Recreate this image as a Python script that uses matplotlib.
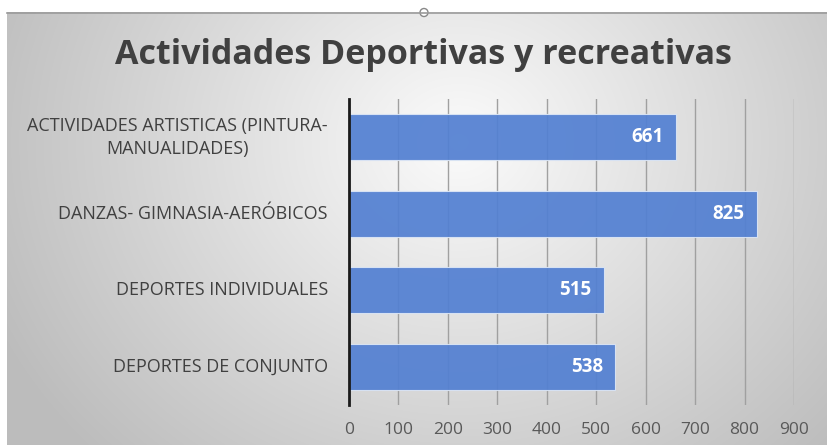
import numpy as np
import matplotlib
matplotlib.use("Agg")
import matplotlib.pyplot as plt

categories = ["ACTIVIDADES ARTISTICAS (PINTURA-\nMANUALIDADES)",
              "DANZAS- GIMNASIA-AERÓBICOS",
              "DEPORTES INDIVIDUALES",
              "DEPORTES DE CONJUNTO"]
values = [661, 825, 515, 538]
xticks = [0, 100, 200, 300, 400, 500, 600, 700, 800, 900]
title = "Actividades Deportivas y recreativas"

W, H = 828, 445
fig = plt.figure(figsize=(W / 100, H / 100), dpi=100)
fig.patch.set_facecolor("white")

# background gradient panel
bg = fig.add_axes([0, 0, 1, 1], zorder=0)
bg.set_xlim(0, W)
bg.set_ylim(H, 0)
bg.axis("off")
yy, xx = np.mgrid[0:H - 12, 0:W - 7]
cx, cy = (W - 7) * 0.55, (H - 12) * 0.3
r = np.sqrt(((xx - cx) / (W * 0.55)) ** 2 + ((yy - cy) / (H * 0.9)) ** 2)
val = np.clip(0.985 - 0.22 * r, 0.74, 0.985)
img = np.dstack([val, val, val])
bg.imshow(img, extent=(7, W, H, 12), aspect="auto", interpolation="bilinear")
bg.plot([7, W], [12.5, 12.5], color="#9a9a9a", lw=1.2)
bg.add_patch(plt.Circle((424, 12.5), 4, facecolor="white", edgecolor="#888888", lw=1))

left, right = 349 / W, 794 / W
bottom, top = 1 - 405 / H, 1 - 99 / H
ax = fig.add_axes([left, bottom, right - left, top - bottom], zorder=1)
ax.patch.set_alpha(0)

px_per_unit = (794 - 349) / 900
y = np.arange(len(categories))
ax.barh(y, values, height=0.6, color="#5380d2", alpha=0.93, edgecolor="#dce6f5",
        lw=0.8, zorder=3)
for yi, v in zip(y, values):
    ax.text(v - 12 / px_per_unit, yi, str(v), ha="right", va="center",
            color="white", fontsize=13.5, fontweight="bold", family="Open Sans", zorder=4)

ax.set_xlim(0, 900)
ax.set_ylim(len(categories) - 0.5, -0.5)
ax.set_xticks(xticks)
ax.set_xticklabels([str(t) for t in xticks], family="Open Sans", fontsize=12.5, color="#595959")
ax.tick_params(axis="x", length=0, pad=12)
ax.set_yticks(y)
ax.set_yticklabels([])
ax.tick_params(axis="y", length=0)
for yi, c in zip(y, categories):
    ax.text(-21 / px_per_unit, yi, c, ha="right", va="center", family="Open Sans",
            fontsize=13, color="#404040", multialignment="center", linespacing=1.35)

ax.grid(axis="x", color="#a0a0a0", lw=1, zorder=0)
for s in ["top", "right", "bottom"]:
    ax.spines[s].set_visible(False)
ax.spines["left"].set_color("#1a1a1a")
ax.spines["left"].set_linewidth(2)
ax.spines["left"].set_zorder(5)

fig.text(423 / W, 1 - 55 / H, title, ha="center", va="center", fontsize=24.5,
         fontweight="bold", family="Open Sans", color="#404040")

fig.savefig("out.png", dpi=100)
